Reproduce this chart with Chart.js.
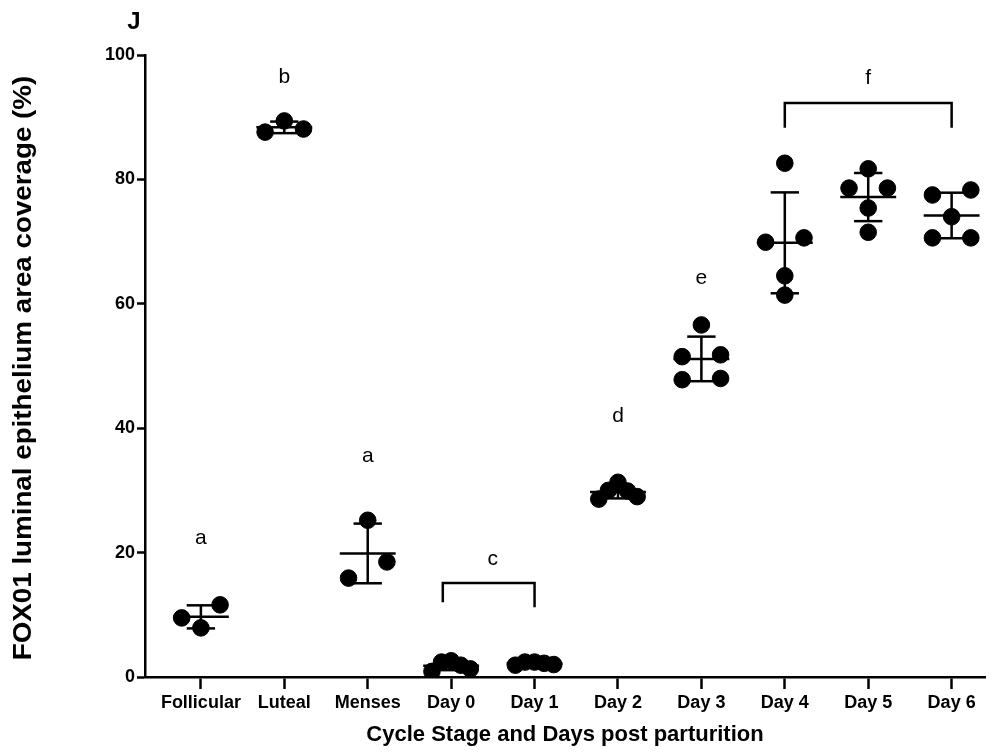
<!DOCTYPE html>
<html>
<head>
<meta charset="utf-8">
<script src="https://cdn.jsdelivr.net/npm/chart.js@4.4.1/dist/chart.umd.min.js"></script>
<style>
html,body{margin:0;padding:0;background:#fff;}
#wrap{width:1006px;height:752px;}
</style>
</head>
<body>
<div id="wrap"><canvas id="c" width="1006" height="752"></canvas></div>
<script>
// ---- data ----
const categories = ['Follicular','Luteal','Menses','Day 0','Day 1','Day 2','Day 3','Day 4','Day 5','Day 6'];
const follicular = [11.6, 9.5, 7.9];
const luteal     = [89.4, 88.1, 87.6];
const menses     = [25.2, 18.5, 15.9];
const day0       = [2.6, 2.4, 1.9, 1.3, 0.9];
const day1       = [2.4, 2.4, 2.2, 2.0, 1.9];
const day2       = [31.3, 30.0, 29.9, 29.0, 28.6];
const day3       = [56.6, 51.8, 51.5, 48.0, 47.8];
const day4       = [82.6, 70.6, 69.9, 64.5, 61.4];
const day5       = [81.7, 78.6, 78.6, 75.4, 71.5];
const day6       = [78.3, 77.5, 74.0, 70.6, 70.6];
const yTicks     = [0, 20, 40, 60, 80, 100];
const letters    = ['a', 'b', 'a', 'c', 'd', 'e', 'f'];
const letterCat  = [0, 1, 2, 3.5, 5, 6, 8];
const letterVal  = [22.3, 96.4, 35.5, 19.0, 41.9, 64.1, 96.2];
const bracketFrom = [2.9, 7];
const bracketTo   = [4, 9];
const bracketVal  = [15.1, 92.3];
const bracketLegEndL = [12.0, 88.3];
const bracketLegEndR = [11.2, 88.3];
const panelLabel = 'J';
const xTitle = 'Cycle Stage and Days post parturition';
const yTitle = 'FOX01 luminal epithelium area coverage (%)';

const groups = [follicular, luteal, menses, day0, day1, day2, day3, day4, day5, day6];

// ---- simple row-based beeswarm (computed) ----
const ROW_GAP = 2.73;   // values closer than this share a row
const HALF_W = 0.23;    // half width of a row, in category units
function swarm(vals, ci) {
  const sorted = vals.slice().sort((a, b) => b - a);
  const rows = [];
  sorted.forEach(v => {
    const r = rows[rows.length - 1];
    if (r && (r[0] - v) < ROW_GAP) r.push(v); else rows.push([v]);
  });
  const pts = [];
  rows.forEach(r => {
    const n = r.length;
    let slots = [];
    if (n === 1) slots = [0];
    else for (let i = 0; i < n; i++) slots.push(-HALF_W + 2 * HALF_W * i / (n - 1));
    slots.sort((a, b) => (Math.abs(a) - Math.abs(b)) || (b - a));
    r.forEach((v, k) => pts.push({x: ci + slots[k], y: v}));
  });
  return pts;
}
const points = [];
groups.forEach((g, i) => swarm(g, i).forEach(p => points.push(p)));

function stats(g) {
  const m = g.reduce((s, v) => s + v, 0) / g.length;
  const sd = Math.sqrt(g.reduce((s, v) => s + (v - m) * (v - m), 0) / (g.length - 1));
  return {m, sd};
}

const FONT = "'Liberation Sans', Arial, Helvetica, sans-serif";

const overlay = {
  id: 'overlay',
  beforeDatasetsDraw(chart) {
    const {ctx, scales: {x, y}} = chart;
    ctx.save();
    ctx.strokeStyle = '#000';
    ctx.lineWidth = 2.5;
    ctx.lineCap = 'butt';
    groups.forEach((g, i) => {
      const {m, sd} = stats(g);
      const line = (x0, y0, x1, y1) => {
        ctx.beginPath();
        ctx.moveTo(x.getPixelForValue(x0), y.getPixelForValue(y0));
        ctx.lineTo(x.getPixelForValue(x1), y.getPixelForValue(y1));
        ctx.stroke();
      };
      line(i - 0.335, m, i + 0.335, m);
      line(i, m - sd, i, m + sd);
      line(i - 0.17, m + sd, i + 0.17, m + sd);
      line(i - 0.17, m - sd, i + 0.17, m - sd);
    });
    ctx.restore();
  },
  afterDraw(chart) {
    const {ctx, scales: {x, y}, chartArea} = chart;
    ctx.save();
    ctx.fillStyle = '#000';
    ctx.strokeStyle = '#000';
    // group letters
    ctx.font = "21px " + FONT;
    ctx.textAlign = 'center';
    ctx.textBaseline = 'middle';
    letters.forEach((t, i) => {
      ctx.fillText(t, x.getPixelForValue(letterCat[i]), y.getPixelForValue(letterVal[i]));
    });
    // brackets
    ctx.lineWidth = 2.5;
    bracketFrom.forEach((f, i) => {
      const x0 = x.getPixelForValue(f), x1 = x.getPixelForValue(bracketTo[i]);
      const yt = y.getPixelForValue(bracketVal[i]);
      ctx.beginPath();
      ctx.moveTo(x0, y.getPixelForValue(bracketLegEndL[i])); ctx.lineTo(x0, yt);
      ctx.lineTo(x1, yt); ctx.lineTo(x1, y.getPixelForValue(bracketLegEndR[i]));
      ctx.stroke();
    });
    // titles
    ctx.font = "bold 22px " + FONT;
    ctx.textBaseline = 'middle';
    ctx.fillText(xTitle, (chartArea.left + chartArea.right) / 2, 735);
    ctx.save();
    ctx.translate(24, (chartArea.top + chartArea.bottom) / 2 + 2);
    ctx.rotate(-Math.PI / 2);
    ctx.scale(1.11, 1);
    ctx.font = "bold 25px " + FONT;
    ctx.fillText(yTitle, 0, 0);
    ctx.restore();
    ctx.font = "bold 24px " + FONT;
    ctx.fillText(panelLabel, 134, 22);
    ctx.restore();
  }
};

new Chart(document.getElementById('c'), {
  type: 'scatter',
  data: {
    datasets: [{
      data: points,
      backgroundColor: '#000',
      borderColor: '#000',
      pointRadius: 8.3,
      pointBorderWidth: 1,
      pointHoverRadius: 8.3
    }]
  },
  options: {
    responsive: false,
    animation: false,
    events: [],
    layout: {padding: {top: 55, right: 21, bottom: 0, left: 0}},
    plugins: {legend: {display: false}, tooltip: {enabled: false}},
    scales: {
      x: {
        type: 'linear',
        min: -0.67,
        max: 9.4,
        afterBuildTicks: (axis) => { axis.ticks = categories.map((c, i) => ({value: i})); },
        afterFit: (axis) => { axis.height = 75; },
        ticks: {
          autoSkip: false,
          maxRotation: 0,
          padding: 3,
          color: '#000',
          font: {family: FONT, size: 18, weight: 'bold'},
          callback: (v) => categories[v]
        },
        grid: {drawOnChartArea: false, drawTicks: true, tickLength: 12, tickWidth: 2.5, color: '#000'},
        border: {display: true, color: '#000', width: 2.5}
      },
      y: {
        type: 'linear',
        min: 0,
        max: 100,
        afterBuildTicks: (axis) => { axis.ticks = yTicks.map(v => ({value: v})); },
        afterFit: (axis) => { axis.width = 145; },
        ticks: {
          padding: 2,
          color: '#000',
          font: {family: FONT, size: 18, weight: 'bold'}
        },
        grid: {drawOnChartArea: false, drawTicks: true, tickLength: 8, tickWidth: 2.5, color: '#000'},
        border: {display: true, color: '#000', width: 2.5}
      }
    }
  },
  plugins: [overlay]
});
</script>
</body>
</html>
